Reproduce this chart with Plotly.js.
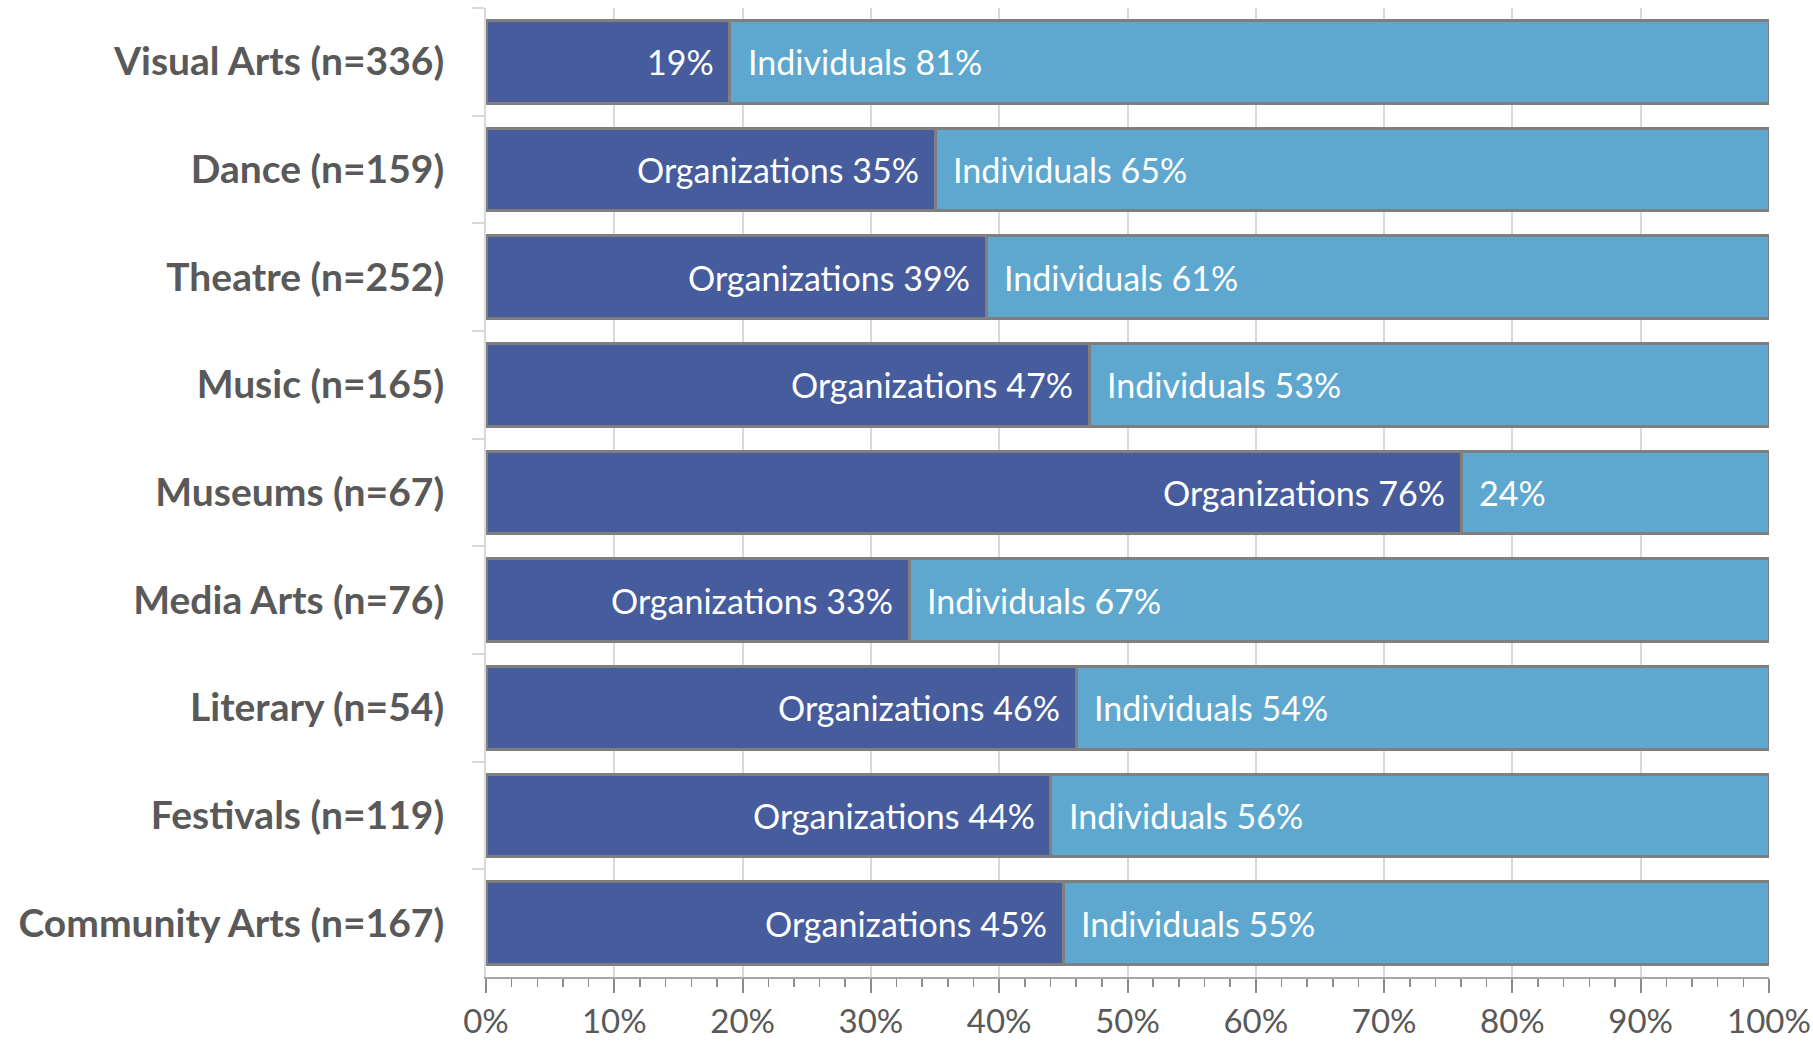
<!DOCTYPE html>
<html>
<head>
<meta charset="utf-8">
<script src="https://cdn.plot.ly/plotly-3.0.1.min.js"></script>
<style>html,body{margin:0;padding:0;background:#fff;}#chart{width:1813px;height:1041px;}</style>
</head>
<body>
<div id="chart"></div>
<script>
const categories = ["Visual Arts (n=336)", "Dance (n=159)", "Theatre (n=252)", "Music (n=165)", "Museums (n=67)", "Media Arts (n=76)", "Literary (n=54)", "Festivals (n=119)", "Community Arts (n=167)"];
const organizations = [19, 35, 39, 47, 76, 33, 46, 44, 45];
const individuals = [81, 65, 61, 53, 24, 67, 54, 56, 55];
const orgLabels = ["19%", "Organizations 35%", "Organizations 39%", "Organizations 47%", "Organizations 76%", "Organizations 33%", "Organizations 46%", "Organizations 44%", "Organizations 45%"];
const indLabels = ["Individuals 81%", "Individuals 65%", "Individuals 61%", "Individuals 53%", "24%", "Individuals 67%", "Individuals 54%", "Individuals 56%", "Individuals 55%"];
const xTicks = [0, 10, 20, 30, 40, 50, 60, 70, 80, 90, 100];
const xTickLabels = ["0%", "10%", "20%", "30%", "40%", "50%", "60%", "70%", "80%", "90%", "100%"];

const labelFont = {family: "Lato, 'Open Sans', sans-serif", size: 34, color: "#ffffff"};

const traces = [
  {type: "bar", orientation: "h", name: "Organizations", y: categories, x: organizations,
   marker: {color: "#465C9C", line: {color: "#7F7F7F", width: 3}}, hoverinfo: "skip"},
  {type: "bar", orientation: "h", name: "Individuals", y: categories, x: individuals,
   marker: {color: "#5EA8CF", line: {color: "#7F7F7F", width: 3}}, hoverinfo: "skip"}
];

const annotations = [];
categories.forEach((c, i) => {
  annotations.push({x: organizations[i], y: c, xref: "x", yref: "y", text: orgLabels[i],
    showarrow: false, xanchor: "right", xshift: -14, font: labelFont});
  annotations.push({x: organizations[i], y: c, xref: "x", yref: "y", text: indLabels[i],
    showarrow: false, xanchor: "left", xshift: 16, font: labelFont});
});

const layout = {
  width: 1813, height: 1041,
  margin: {l: 486, r: 44, t: 8, b: 64},
  barmode: "stack", bargap: 0.23,
  showlegend: false,
  paper_bgcolor: "#ffffff", plot_bgcolor: "#ffffff",
  font: {family: "Lato, 'Open Sans', sans-serif", color: "#595959"},
  xaxis: {range: [0, 100], tickmode: "array", tickvals: xTicks, ticktext: xTickLabels,
    showgrid: true, gridcolor: "#D9D9D9", gridwidth: 2,
    zeroline: false, showline: true, linecolor: "#A6A6A6", linewidth: 2,
    ticks: "outside", ticklen: 14, tickwidth: 2, tickcolor: "#8C8C8C",
    minor: {dtick: 2, ticks: "outside", ticklen: 8, tickwidth: 1.5, tickcolor: "#8C8C8C", showgrid: false},
    tickfont: {size: 33, color: "#595959"}, fixedrange: true},
  yaxis: {autorange: "reversed", showline: true, linecolor: "#D9D9D9", linewidth: 2,
    ticks: "outside", tickson: "boundaries", ticklen: 12, tickwidth: 2, tickcolor: "#D9D9D9",
    showgrid: false, ticklabelstandoff: 32,
    tickfont: {size: 39, color: "#595959", weight: "bold"}, fixedrange: true},
  annotations: annotations
};

Plotly.newPlot("chart", traces, layout, {displayModeBar: false, staticPlot: true});
</script>
</body>
</html>
